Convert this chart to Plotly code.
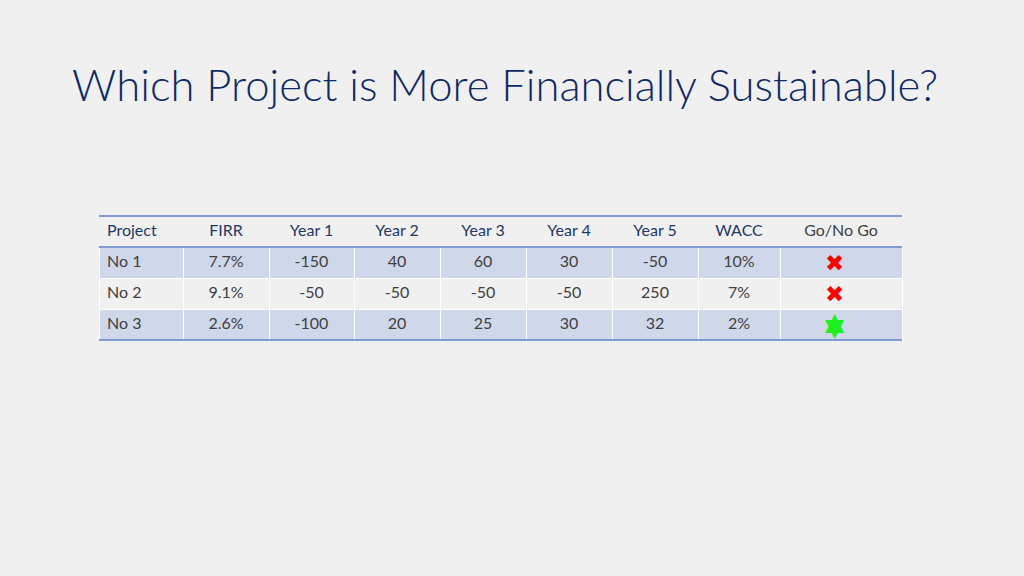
import plotly.graph_objects as go

# ---- data ----
headers = ["Project", "FIRR", "Year 1", "Year 2", "Year 3", "Year 4", "Year 5", "WACC", "Go/No Go"]
projects = ["No 1", "No 2", "No 3"]
firr = ["7.7%", "9.1%", "2.6%"]
year1 = [-150, -50, -100]
year2 = [40, -50, 20]
year3 = [60, -50, 25]
year4 = [30, -50, 30]
year5 = [-50, 250, 32]
wacc = ["10%", "7%", "2%"]
decision = ["no", "no", "go"]

title_text = "Which Project is More Financially Sustainable?"

# ---- styles ----
BG = "#F0F0F0"
NAVY = "#1F3864"
GREY = "#404040"
ROWBLUE = "#CFD8EA"
ROWGREY = "#F0F0F0"
LINEBLUE = "#5B7FC4"

# each symbol is built from one or more glyph layers: (glyph, size, yshift)
sym_layers = {
    "no": [("\u2716", 23, 0)],
    "go": [("\u25B2", 25, 3), ("\u25BC", 25, -3)],   # overlapping triangles -> filled hexagram
}
sym_color = {"no": "#FF0000", "go": "#1EF01E"}

W, H = 1024, 576
left, right = 99, 902
top = 216
row_h = 31

n = len(projects)
row_fill = [ROWBLUE if i % 2 == 0 else ROWGREY for i in range(n)]
ncol = len(headers)

cell_values = [projects, firr, year1, year2, year3, year4, year5, wacc, [""] * n]

colwidths = [84, 86, 85, 86, 86, 86, 86, 82, 122]
last_col_left = right - colwidths[-1]

fig = go.Figure()
fig.add_trace(go.Table(
    domain=dict(x=[left / W, right / W], y=[0.0, 1 - top / H]),
    columnwidth=colwidths,
    header=dict(
        values=headers,
        fill_color=BG,
        line=dict(color=BG, width=1),
        align=["left"] + ["center"] * (ncol - 1),
        font=dict(family="Lato", size=16,
                  color=[NAVY] * (ncol - 1) + [GREY]),
        height=row_h,
    ),
    cells=dict(
        values=cell_values,
        fill_color=[row_fill] * ncol,
        line=dict(color="white", width=1),
        align=["left"] + ["center"] * (ncol - 1),
        font=dict(family="Lato", size=16, color=GREY),
        height=row_h,
    ),
))

# hidden axes laid over the Go/No Go column, one unit per row
fig.update_xaxes(domain=[last_col_left / W, right / W], range=[-0.9, 1.1], visible=False)
fig.update_yaxes(domain=[1 - (top + row_h * (n + 1)) / H, 1 - (top + row_h) / H],
                 range=[n - 0.5, -0.5], visible=False)

for i, d in enumerate(decision):
    for glyph, size, ys in sym_layers[d]:
        fig.add_annotation(text=glyph, xref="x", yref="y", x=0, y=i, yshift=ys,
                           xanchor="center", yanchor="middle", showarrow=False,
                           font=dict(family="DejaVu Sans", size=size,
                                     color=sym_color[d]))

# horizontal rule lines (style only)
for yy in [top, top + row_h, top + row_h * (n + 1)]:
    fig.add_shape(type="line", xref="paper", yref="paper",
                  x0=left / W, x1=right / W, y0=1 - yy / H, y1=1 - yy / H,
                  line=dict(color=LINEBLUE, width=1.5))

fig.add_annotation(text=title_text, xref="paper", yref="paper",
                   x=70 / W, y=1 - 84 / H, xanchor="left", yanchor="middle",
                   showarrow=False,
                   font=dict(family="Lato", size=43.6, weight=300, color="#0E2A66"))

fig.update_layout(width=W, height=H, margin=dict(l=0, r=0, t=0, b=0),
                  paper_bgcolor=BG, plot_bgcolor="rgba(0,0,0,0)")

fig.write_html("out.html", config={"displayModeBar": False},
               post_script="document.body.style.margin='0';document.body.style.background='%s';" % BG)
